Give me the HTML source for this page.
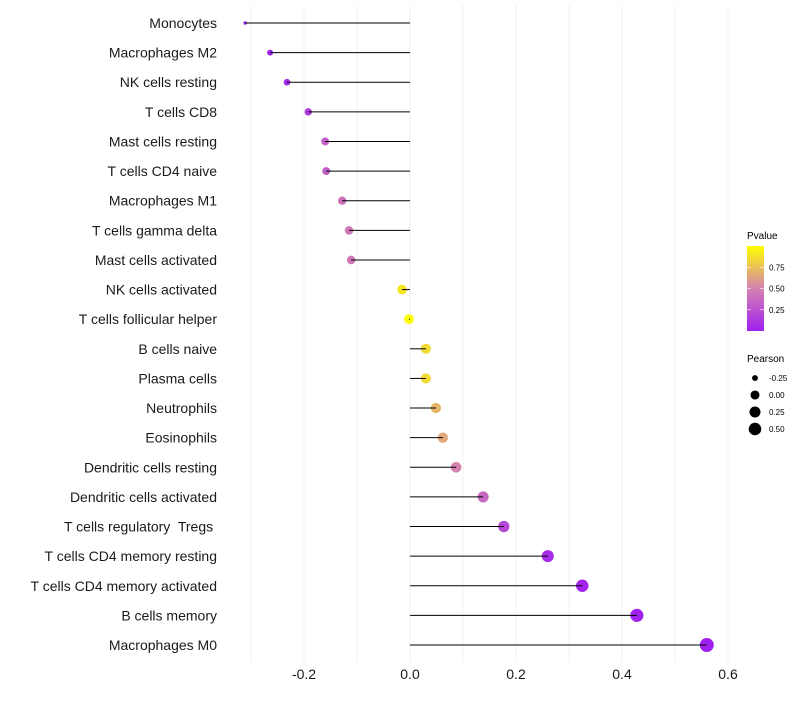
<!DOCTYPE html>
<html><head><meta charset="utf-8"><style>
body{margin:0;background:#fff;font-family:"Liberation Sans",sans-serif;}
</style></head><body>
<svg id="chart" width="800" height="700" xmlns="http://www.w3.org/2000/svg" font-family="Liberation Sans, sans-serif">
<defs><linearGradient id="pg" x1="0" y1="1" x2="0" y2="0">
<stop offset="0" stop-color="#A020F0"/><stop offset="0.5" stop-color="#D482B0"/><stop offset="1" stop-color="#FFFF00"/>
</linearGradient></defs>
<g id="grid"></g>
<g id="marks"></g>
<g id="ylabels"></g>
<g id="xlabels"></g>
<g>
<text x="747" y="239" font-size="10" fill="#000">Pvalue</text>
<rect x="747" y="246" width="17" height="85" fill="url(#pg)"/>
<g id="cbticks"></g>
</g>
<g id="sizeleg">
<text x="747" y="362" font-size="10" fill="#000">Pearson</text>
</g>
</svg>
<script>
const categories=["Monocytes","Macrophages M2","NK cells resting","T cells CD8","Mast cells resting","T cells CD4 naive","Macrophages M1","T cells gamma delta","Mast cells activated","NK cells activated","T cells follicular helper","B cells naive","Plasma cells","Neutrophils","Eosinophils","Dendritic cells resting","Dendritic cells activated","T cells regulatory\u00a0 Tregs\u00a0","T cells CD4 memory resting","T cells CD4 memory activated","B cells memory","Macrophages M0"];
const pearson=[-0.311,-0.264,-0.232,-0.192,-0.160,-0.158,-0.128,-0.115,-0.111,-0.015,-0.002,0.030,0.030,0.049,0.062,0.087,0.138,0.177,0.260,0.325,0.428,0.560];
const pvalue=[0.04,0.03,0.05,0.15,0.32,0.32,0.42,0.45,0.45,0.9,0.99,0.85,0.85,0.7,0.65,0.5,0.37,0.2,0.06,0.02,0.005,0.002];
const xTicks=[-0.2,0.0,0.2,0.4,0.6];
const xTickLabels=["-0.2","0.0","0.2","0.4","0.6"];
const cbTicks=[0.25,0.5,0.75];
const sizeVals=[-0.25,0,0.25,0.5];
const NS="http://www.w3.org/2000/svg";
const X=v=>410+v*530;
const Y=i=>23+i*(645-23)/21;
const R=v=>1.8+5.2*Math.sqrt(Math.max(0,(v+0.311)/0.871));
function col(p){const st=[[0,[160,32,240]],[0.5,[212,130,176]],[1,[255,255,0]]];
 let a=st[0],b=st[1];if(p>0.5){a=st[1];b=st[2];}const t=(p-a[0])/(b[0]-a[0]);
 return "rgb("+a[1].map((c,k)=>Math.round(c+(b[1][k]-c)*t)).join(",")+")";}
function mk(tag,at,parent){const e=document.createElementNS(NS,tag);for(const k in at)e.setAttribute(k,at[k]);parent.appendChild(e);return e;}
const grid=document.getElementById('grid');
for(let v=-0.3;v<=0.61;v+=0.1){const l=mk('line',{x1:X(v),x2:X(v),y1:5,y2:662,stroke:'#f2f2f2','stroke-width':1},grid);

}
const marks=document.getElementById('marks'),yl=document.getElementById('ylabels');
categories.forEach((c,i)=>{
 const d=mk('circle',{cx:X(pearson[i]),cy:Y(i),r:R(pearson[i]),fill:col(pvalue[i])},marks);
 
 
 const s=mk('line',{x1:X(0),x2:X(pearson[i]),y1:Y(i),y2:Y(i),stroke:'#000','stroke-width':1},marks);
 
 
 const t=mk('text',{x:217,y:Y(i)+5,'text-anchor':'end','font-size':14,fill:'#1a1a1a'},yl);
 t.textContent=c;
 
 
});
const xl=document.getElementById('xlabels');
xTicks.forEach((v,i)=>{const t=mk('text',{x:X(v),y:679,'text-anchor':'middle','font-size':14,fill:'#1a1a1a'},xl);
t.textContent=xTickLabels[i];

});
const cb=document.getElementById('cbticks');
cbTicks.forEach(v=>{const y=331-v*85;
mk('line',{x1:747,x2:751,y1:y,y2:y,stroke:'#fff','stroke-width':0.6},cb);
mk('line',{x1:760,x2:764,y1:y,y2:y,stroke:'#fff','stroke-width':0.6},cb);
const t=mk('text',{x:769,y:y+3,'font-size':8,fill:'#000'},cb);t.textContent=v.toFixed(2);

});
const sl=document.getElementById('sizeleg');
sizeVals.forEach((v,i)=>{const y=378+i*17;
const c=mk('circle',{cx:755,cy:y,r:R(v)*0.92,fill:'#000'},sl);


const t=mk('text',{x:769,y:y+3,'font-size':8,fill:'#000'},sl);t.textContent=v.toFixed(2);

});
</script>
</body></html>
